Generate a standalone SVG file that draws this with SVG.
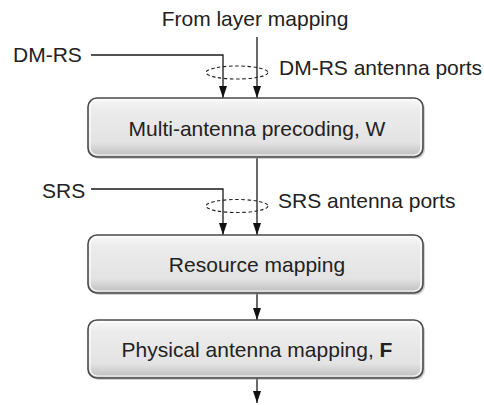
<svg xmlns="http://www.w3.org/2000/svg" width="484" height="405" viewBox="0 0 484 405">
<style>
  text { font-family: "Liberation Sans", Arial, sans-serif; font-size: 21px; fill: #222; }
  .box { fill: url(#boxGrad); stroke: #4a4a4a; stroke-width: 1.6; }
  .hl { fill: none; stroke: #ffffff; stroke-width: 1.2; opacity: 0.9; }
  .shadow { fill: #9a9a9a; opacity: 0.45; }
  .conn { stroke: #1a1a1a; stroke-width: 1.3; fill: none; }
  .arr { marker-end: url(#arrow); }
  .group { fill: none; stroke: #222; stroke-width: 1.1; stroke-dasharray: 3.5 2.5; }
</style>
<defs>
  <linearGradient id="boxGrad" x1="0" y1="0" x2="0" y2="1">
    <stop offset="0" stop-color="#f8f8f8"/>
    <stop offset="0.2" stop-color="#ececec"/>
    <stop offset="0.75" stop-color="#e3e3e3"/>
    <stop offset="1" stop-color="#bdbdbd"/>
  </linearGradient>
  <marker id="arrow" markerUnits="userSpaceOnUse" markerWidth="12" markerHeight="8" viewBox="0 0 12 8" refX="12" refY="4" orient="auto">
    <path d="M0,0 L12,4 L0,8 Z" fill="#111"/>
  </marker>
</defs>
<rect width="484" height="405" fill="#ffffff"/>

<g id="connectors">
  <line class="conn arr" x1="257" y1="37" x2="257" y2="98"/>
  <polyline class="conn arr" points="91,55 223,55 223,98"/>
  <ellipse class="group" cx="237" cy="72.5" rx="31" ry="6.5"/>
  <line class="conn arr" x1="257" y1="158" x2="257" y2="235"/>
  <polyline class="conn arr" points="91,189 223,189 223,235"/>
  <ellipse class="group" cx="237" cy="206" rx="31" ry="6.5"/>
  <line class="conn arr" x1="257" y1="293" x2="257" y2="320"/>
  <line class="conn arr" x1="257" y1="378" x2="257" y2="403"/>
</g>

<g id="from-layer-mapping"><text x="255" y="26" text-anchor="middle">From layer mapping</text></g>
<g id="dmrs"><text x="13" y="62">DM-RS</text></g>
<g id="dmrs-ports"><text x="279" y="75">DM-RS antenna ports</text></g>
<g id="srs"><text x="42" y="198">SRS</text></g>
<g id="srs-ports"><text x="278" y="208">SRS antenna ports</text></g>

<g id="precoding">
  <rect class="shadow" x="90" y="100" width="335" height="59" rx="9"/>
  <rect class="box" x="88" y="98" width="335" height="59" rx="9"/>
  <rect class="hl" x="90" y="100" width="331" height="55" rx="7.5"/>
  <text x="257" y="136" text-anchor="middle">Multi-antenna precoding, W</text>
</g>
<g id="resource-mapping">
  <rect class="shadow" x="90" y="237" width="335" height="58" rx="9"/>
  <rect class="box" x="88" y="235" width="335" height="58" rx="9"/>
  <rect class="hl" x="90" y="237" width="331" height="54" rx="7.5"/>
  <text x="257" y="272" text-anchor="middle">Resource mapping</text>
</g>
<g id="physical-antenna-mapping">
  <rect class="shadow" x="90" y="322" width="335" height="58" rx="9"/>
  <rect class="box" x="88" y="320" width="335" height="58" rx="9"/>
  <rect class="hl" x="90" y="322" width="331" height="54" rx="7.5"/>
  <text x="257" y="357" text-anchor="middle">Physical antenna mapping, <tspan font-weight="bold">F</tspan></text>
</g>
</svg>
